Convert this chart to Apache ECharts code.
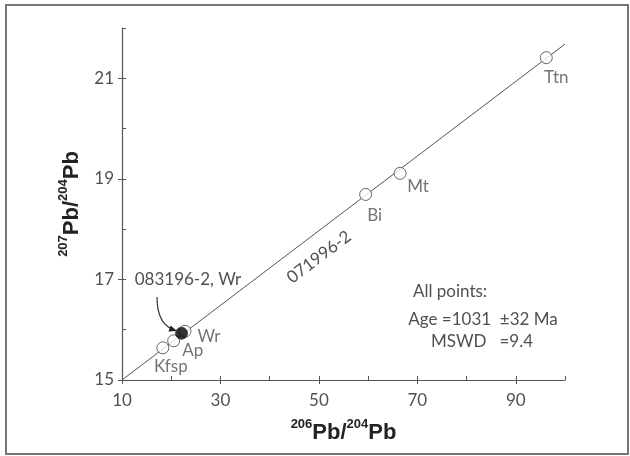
<!DOCTYPE html>
<html>
	<head>
		<meta charset="UTF-8">
		<title></title>
		<script src="https://cdn.jsdelivr.net/npm/echarts@6/dist/echarts.min.js"></script>
		<style type="text/css">
			body { margin: 0; background: #fff; }
		</style>
	</head>
	<body>
		<div id="box" style="width:630px;height:456px;"></div>

		<script type="text/javascript">
			// 206Pb/204Pb vs 207Pb/204Pb, mineral points
			var names = ['Kfsp', 'Ap', 'Wr', 'Bi', 'Mt', 'Ttn'];
			var pb206 = [18.3, 20.5, 22.8, 59.5, 66.5, 96.2];
			var pb207 = [15.64, 15.78, 15.97, 18.69, 19.11, 21.41];
			// sample 083196-2 whole rock (filled)
			var wrX = [22.1];
			var wrY = [15.93];
			// isochron line ends
			var fitX = [10, 100];
			var fitY = [15, 21.68];
			var xTickLabels = [10, 30, 50, 70, 90];
			var yTickLabels = [15, 17, 19, 21];

			var labelOffset = {
				Kfsp: [8, 19], Ap: [19, 10], Wr: [24, 5],
				Bi: [9, 21], Mt: [18, 13], Ttn: [10, 20]
			};

			var txtFont = 'Lato';
			var grey = '#505050';

			var myChart = echarts.init(document.getElementById('box'));

			var pts = [];
			for (var i = 0; i < names.length; i++) {
				pts.push({
					value: [pb206[i], pb207[i]],
					name: names[i],
					label: { offset: labelOffset[names[i]] }
				});
			}
			var wrPts = wrX.map(function (x, i) { return [x, wrY[i]]; });
			var fitPts = fitX.map(function (x, i) { return [x, fitY[i]]; });

			var titleRich = {
				b: { fontFamily: 'Liberation Sans', fontWeight: 'bold', fontSize: 22, color: '#222', lineHeight: 26, verticalAlign: 'bottom' },
				s: { fontFamily: 'Liberation Sans', fontWeight: 'bold', fontSize: 13, color: '#222', lineHeight: 26, verticalAlign: 'top' }
			};

			var axisCol = '#555';
			var option = {
				animation: false,
				grid: { left: 122, right: 65, top: 28, bottom: 76 },
				xAxis: [{
					type: 'value', min: 10, max: 100, interval: 10,
					splitLine: { show: false },
					axisLine: { lineStyle: { color: axisCol, width: 1.2 } },
					axisTick: { inside: true, length: 4, lineStyle: { color: axisCol } },
					axisLabel: {
						margin: 12, fontFamily: txtFont, fontSize: 17, color: grey,
						formatter: function (v) { return xTickLabels.indexOf(v) >= 0 ? v : ''; }
					},
					name: '{s|206}{b|Pb/}{s|204}{b|Pb}',
					nameLocation: 'middle', nameGap: 38,
					nameTextStyle: { rich: titleRich }
				}, {
					type: 'value', min: 10, max: 100, interval: 20, position: 'bottom',
					splitLine: { show: false },
					axisLine: { show: false },
					axisTick: { length: 4, customValues: xTickLabels, lineStyle: { color: axisCol } },
					axisLabel: { show: false }
				}],
				yAxis: [{
					type: 'value', min: 15, max: 22, interval: 1,
					splitLine: { show: false },
					axisLine: { lineStyle: { color: axisCol, width: 1.2 } },
					axisTick: { inside: true, length: 4, lineStyle: { color: axisCol } },
					axisLabel: {
						margin: 8, fontFamily: txtFont, fontSize: 17, color: grey,
						formatter: function (v) { return yTickLabels.indexOf(v) >= 0 ? v : ''; }
					},
					name: '{s|207}{b|Pb/}{s|204}{b|Pb}',
					nameLocation: 'middle', nameGap: 37, nameRotate: 90,
					nameTextStyle: { rich: titleRich }
				}, {
					type: 'value', min: 15, max: 22, interval: 2, position: 'left',
					splitLine: { show: false },
					axisLine: { show: false },
					axisTick: { length: 4, customValues: yTickLabels, lineStyle: { color: axisCol } },
					axisLabel: { show: false }
				}],
				series: [{
					type: 'line',
					data: fitPts,
					showSymbol: false,
					lineStyle: { color: '#555', width: 1 },
					z: 1
				}, {
					type: 'scatter',
					data: pts,
					symbol: 'circle',
					symbolSize: 12,
					itemStyle: { color: '#fff', borderColor: '#444', borderWidth: 1 },
					label: {
						show: true, position: 'inside', formatter: '{b}',
						fontFamily: txtFont, fontSize: 17, color: grey
					},
					z: 3
				}, {
					type: 'scatter',
					data: wrPts,
					symbol: 'circle',
					symbolSize: 12,
					itemStyle: { color: '#000', borderColor: '#333', borderWidth: 1 },
					z: 4
				}],
				graphic: [{
					type: 'rect',
					shape: { x: 6, y: 5, width: 622, height: 449 },
					style: { fill: null, stroke: '#777', lineWidth: 2 },
					silent: true
				}, {
					type: 'text', x: 319, y: 257, rotation: 37 * Math.PI / 180,
					style: { text: '071996-2', font: '17px Lato', fill: grey, align: 'center', verticalAlign: 'middle' }
				}, {
					type: 'text', x: 188, y: 280,
					style: { text: '083196-2, Wr', font: '17px Lato', fill: grey, align: 'center', verticalAlign: 'middle' }
				}, {
					type: 'bezierCurve',
					shape: { x1: 157, y1: 297, cpx1: 157, cpy1: 318, cpx2: 165, cpy2: 326, x2: 172, y2: 329 },
					style: { stroke: '#333', lineWidth: 1.2, fill: null }
				}, {
					type: 'polygon',
					shape: { points: [[177, 331], [168.4, 331.5], [170.6, 325.6]] },
					style: { fill: '#222' }
				}, {
					type: 'text', x: 450, y: 292,
					style: { text: 'All points:', font: '17px Lato', fill: grey, align: 'center', verticalAlign: 'middle' }
				}, {
					type: 'text', x: 483, y: 320,
					style: { text: 'Age =1031  \u00B132 Ma', font: '17px Lato', fill: grey, align: 'center', verticalAlign: 'middle' }
				}, {
					type: 'text', x: 482, y: 342,
					style: { text: 'MSWD   =9.4', font: '17px Lato', fill: grey, align: 'center', verticalAlign: 'middle' }
				}]
			};
			myChart.setOption(option);
		</script>
	</body>
</html>
